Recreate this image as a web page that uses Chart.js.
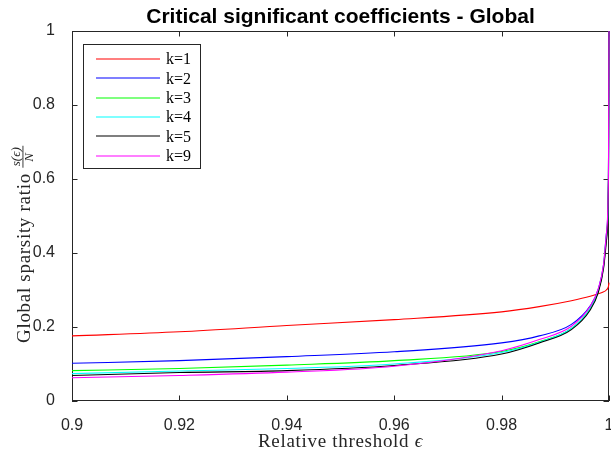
<!DOCTYPE html>
<html>
<head>
<meta charset="utf-8">
<script src="https://cdn.jsdelivr.net/npm/chart.js@4.4.1/dist/chart.umd.min.js"></script>
<style>
  html, body { margin: 0; padding: 0; background: #fff; }
</style>
</head>
<body>
<canvas id="sparsityChart" width="611" height="452"></canvas>
<script>
// values
const epsilon = [0.9, 0.92, 0.94, 0.96, 0.98, 0.987, 0.993, 0.9965, 0.998, 0.999, 0.9995, 0.9999, 1];
const ratioK1 = [0.176, 0.187, 0.204, 0.220, 0.241, 0.255, 0.271, 0.283, 0.290, 0.295, 0.300, 0.31, 0.32];
const ratioK2 = [0.102, 0.109, 0.120, 0.133, 0.157, 0.176, 0.207, 0.257, 0.302, 0.37, 0.45, 0.60, 1.0];
const ratioK3 = [0.082, 0.088, 0.097, 0.109, 0.134, 0.160, 0.196, 0.250, 0.296, 0.365, 0.44, 0.60, 1.0];
const ratioK4 = [0.074, 0.081, 0.088, 0.100, 0.131, 0.159, 0.196, 0.250, 0.297, 0.365, 0.44, 0.60, 1.0];
const ratioK5 = [0.069, 0.077, 0.082, 0.096, 0.127, 0.157, 0.193, 0.246, 0.293, 0.36, 0.43, 0.60, 1.0];
const ratioK9 = [0.063, 0.069, 0.078, 0.094, 0.136, 0.166, 0.202, 0.256, 0.303, 0.37, 0.45, 0.62, 1.0];
const seriesLabels = ['k=1', 'k=2', 'k=3', 'k=4', 'k=5', 'k=9'];
const seriesColors = ['#ff0000', '#0000ff', '#00ff00', '#00ffff', '#000000', '#ff00ff'];
const xTickValues = [0.9, 0.92, 0.94, 0.96, 0.98, 1];
const xTickLabels = ['0.9', '0.92', '0.94', '0.96', '0.98', '1'];
const yTickValues = [0, 0.2, 0.4, 0.6, 0.8, 1];
const yTickLabels = ['0', '0.2', '0.4', '0.6', '0.8', '1'];

const axisColor = '#262626';
const serif = '"Liberation Serif", "DejaVu Serif", serif';
const sans = '"Liberation Sans", Arial, sans-serif';

const allRatios = [ratioK1, ratioK2, ratioK3, ratioK4, ratioK5, ratioK9];
const datasets = allRatios.map((vals, i) => ({
  label: seriesLabels[i],
  data: epsilon.map((e, j) => ({ x: e, y: vals[j] })),
  borderColor: seriesColors[i],
  borderWidth: 1.1,
  pointRadius: 0,
  cubicInterpolationMode: 'monotone',
  clip: false,
  order: allRatios.length - i, // last series on top, like matlab
}));

// box, inner ticks, title, axis labels
const matlabFrame = {
  id: 'matlabFrame',
  beforeDatasetsDraw(chart) {
    const { ctx, chartArea: { left, top, right, bottom } } = chart;
    const xs = chart.scales.x;
    const ys = chart.scales.y;
    const tick = 5.5;
    ctx.save();
    ctx.strokeStyle = axisColor;
    ctx.lineWidth = 1;
    ctx.strokeRect(left + 0.5, top + 0.5, right - left - 1, bottom - top - 1);
    ctx.beginPath();
    xTickValues.forEach((v) => {
      const px = Math.round(xs.getPixelForValue(v)) + 0.5;
      ctx.moveTo(px, bottom); ctx.lineTo(px, bottom - tick);
      ctx.moveTo(px, top); ctx.lineTo(px, top + tick);
    });
    yTickValues.forEach((v) => {
      const py = Math.round(ys.getPixelForValue(v)) + 0.5;
      ctx.moveTo(left, py); ctx.lineTo(left + tick, py);
      ctx.moveTo(right, py); ctx.lineTo(right - tick, py);
    });
    ctx.stroke();

    const cx = (left + right) / 2;
    ctx.fillStyle = '#000';
    ctx.textAlign = 'center';
    ctx.textBaseline = 'alphabetic';
    ctx.font = 'bold 21px ' + sans;
    ctx.fillText('Critical significant coefficients - Global', cx, 23);

    // x label, epsilon in italic
    ctx.fillStyle = axisColor;
    ctx.textAlign = 'left';
    ctx.font = '19px ' + serif;
    ctx.letterSpacing = '0.7px';
    const xl = 'Relative threshold ';
    const xlw = ctx.measureText(xl).width;
    ctx.font = 'italic 19px ' + serif;
    const ew = ctx.measureText('\u03f5').width;
    const x0 = cx - (xlw + ew) / 2;
    ctx.fillText('\u03f5', x0 + xlw, 447);
    ctx.font = '19px ' + serif;
    ctx.fillText(xl, x0, 447);

    // y label with the s(eps)/N fraction
    ctx.translate(30, 343);
    ctx.rotate(-Math.PI / 2);
    const main = 'Global sparsity ratio ';
    ctx.fillText(main, 0, 0);
    const w = ctx.measureText(main).width;
    ctx.letterSpacing = '0px';
    ctx.font = 'italic 13px ' + serif;
    const num = 's(\u03f5)';
    const fw = ctx.measureText(num).width + 3;
    ctx.fillText(num, w + 1.5, -10);
    ctx.fillText('N', w + fw / 2 - 5, 3);
    ctx.fillRect(w, -7.5, fw, 0.9);
    ctx.restore();
  },
  afterDraw(chart) {
    const { ctx } = chart;
    ctx.save();
    ctx.fillStyle = '#fff';
    ctx.fillRect(83.5, 44.5, 117, 124);
    ctx.strokeStyle = axisColor;
    ctx.lineWidth = 1;
    ctx.strokeRect(83.5, 44.5, 117, 124);
    ctx.font = '16px ' + serif;
    ctx.textBaseline = 'middle';
    ctx.textAlign = 'left';
    chart.data.datasets.forEach((ds, i) => {
      const y = 59 + i * 19.35;
      ctx.strokeStyle = ds.borderColor;
      ctx.lineWidth = 1.2;
      ctx.beginPath();
      ctx.moveTo(96, Math.round(y));
      ctx.lineTo(160, Math.round(y));
      ctx.stroke();
      ctx.fillStyle = '#000';
      ctx.fillText(ds.label, 166, y + 1);
    });
    ctx.restore();
  },
};

new Chart(document.getElementById('sparsityChart'), {
  type: 'line',
  data: { datasets },
  options: {
    responsive: false,
    devicePixelRatio: 1,
    animation: false,
    layout: { padding: { top: 31, right: 2, left: 0, bottom: 0 } },
    scales: {
      x: {
        type: 'linear',
        min: 0.9,
        max: 1,
        grid: { display: false },
        border: { display: false },
        afterBuildTicks: (scale) => { scale.ticks = xTickValues.map((v) => ({ value: v })); },
        afterFit: (scale) => {
          scale.height = 51;
          scale.paddingLeft = 0;
          scale.paddingRight = 0;
        },
        ticks: {
          color: axisColor,
          font: { family: sans, size: 16 },
          padding: 7,
          maxRotation: 0,
          autoSkip: false,
          callback: (v, i) => xTickLabels[i],
        },
      },
      y: {
        min: 0,
        max: 1,
        grid: { display: false },
        border: { display: false },
        afterBuildTicks: (scale) => { scale.ticks = yTickValues.map((v) => ({ value: v })); },
        afterFit: (scale) => {
          scale.width = 72;
          scale.paddingTop = 0;
          scale.paddingBottom = 0;
        },
        ticks: {
          color: axisColor,
          font: { family: sans, size: 16 },
          padding: 9,
          autoSkip: false,
          callback: (v, i) => yTickLabels[i],
        },
      },
    },
    plugins: {
      legend: { display: false },
      tooltip: { enabled: false },
    },
  },
  plugins: [matlabFrame],
});
</script>
</body>
</html>
